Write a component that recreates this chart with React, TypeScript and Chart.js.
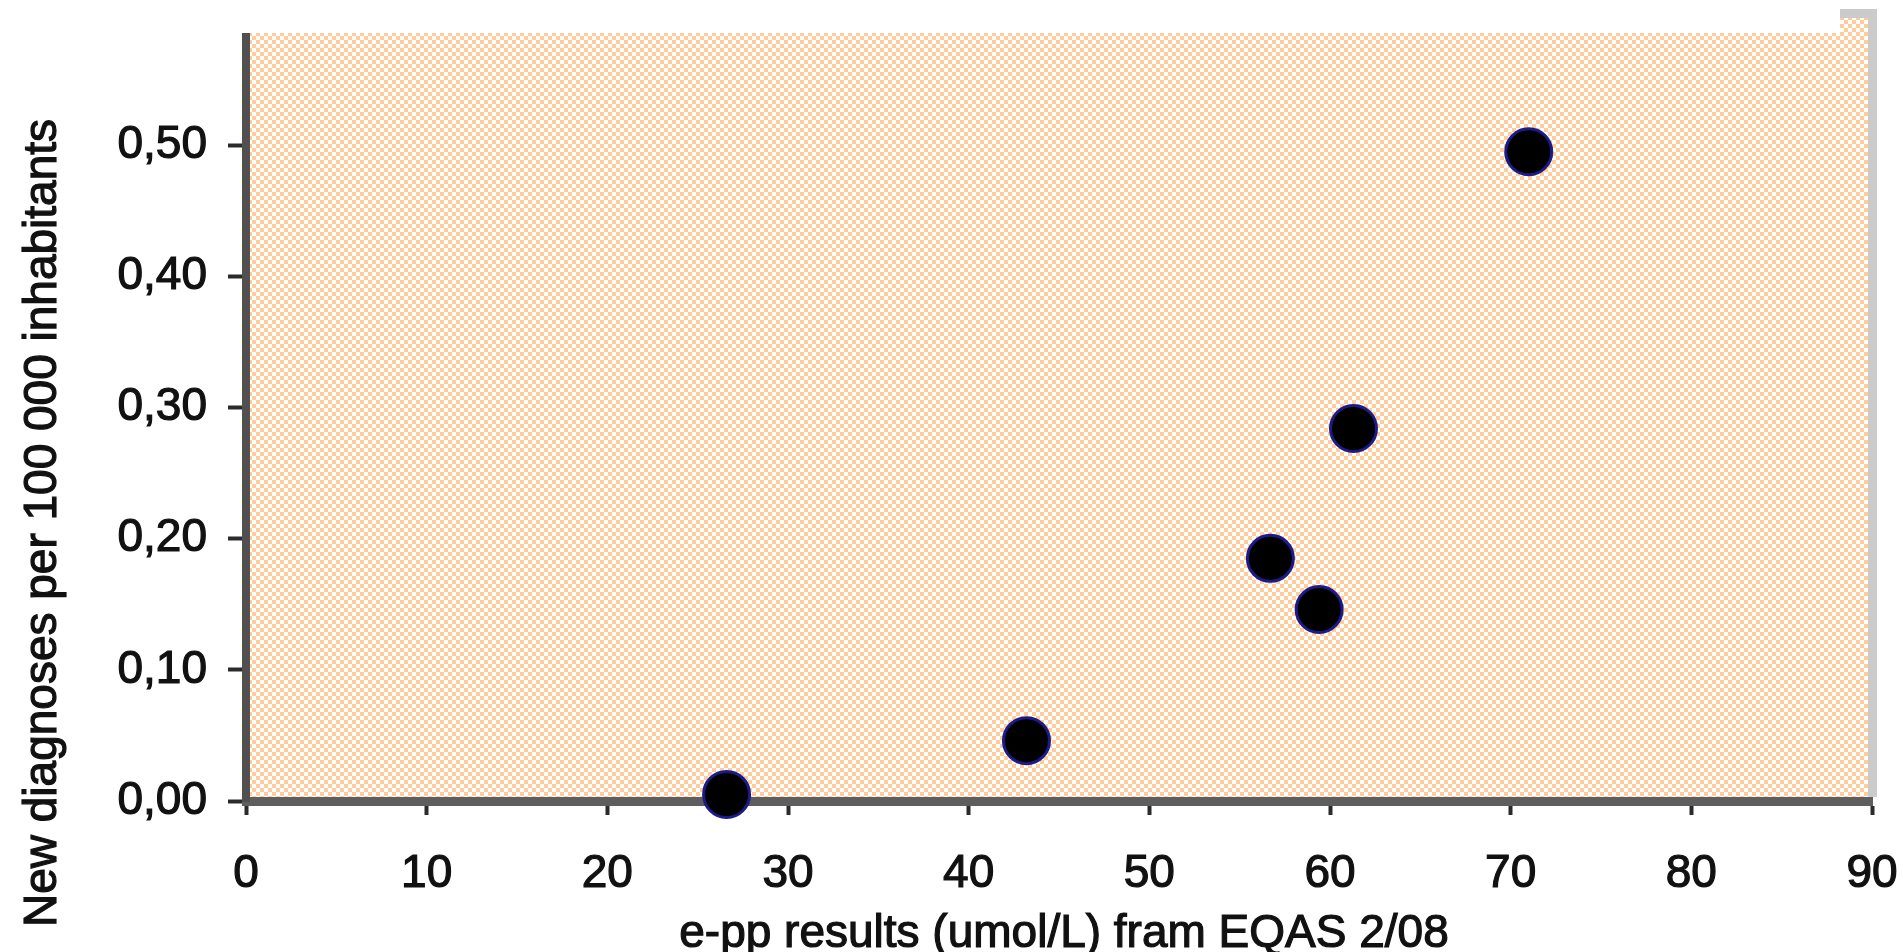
import { useEffect, useRef } from 'react';
import { Chart, registerables } from 'chart.js';

Chart.register(...registerables);

const xValues = [26.6, 43.2, 56.7, 59.4, 61.3, 71.0];
const yValues = [0.005, 0.046, 0.185, 0.146, 0.284, 0.495];
const xTickValues = [0, 10, 20, 30, 40, 50, 60, 70, 80, 90];
const yTickValues = [0, 0.1, 0.2, 0.3, 0.4, 0.5];
const xTitle = 'e-pp results (umol/L) fram EQAS 2/08';
const yTitle = 'New diagnoses per 100 000 inhabitants';

const FONT = '"Liberation Sans", Arial, sans-serif';
const FONT_SIZE = 46;
const TEXT_COLOR = '#111111';
const STROKE_W = 1.2;

export default function App() {
  const ref = useRef<HTMLCanvasElement>(null);

  useEffect(() => {
    const canvas = ref.current!;
    const tile = document.createElement('canvas');
    tile.width = 8;
    tile.height = 8;
    const tctx = tile.getContext('2d')!;
    tctx.fillStyle = '#ffffff';
    tctx.fillRect(0, 0, 8, 8);
    tctx.fillStyle = '#ffcc9b';
    tctx.fillRect(0, 0, 4, 4);
    tctx.fillRect(4, 4, 4, 4);
    const pattern = canvas.getContext('2d')!.createPattern(tile, 'repeat');

    const decor = {
      id: 'decor',
      beforeDraw(chart: any) {
        const { ctx, chartArea: a } = chart;
        ctx.save();
        ctx.fillStyle = '#ffffff';
        ctx.fillRect(0, 0, chart.width, chart.height);
        ctx.fillStyle = pattern as any;
        ctx.fillRect(a.left, a.top, a.right - a.left, a.bottom - a.top);
        ctx.restore();
      },
      afterDraw(chart: any) {
        const { ctx, chartArea: a } = chart;
        ctx.save();
        // frame (top and right)
        ctx.fillStyle = '#cbcbcb';
        ctx.fillRect(a.left, a.top - 5, a.right - a.left + 5, 9);
        ctx.fillRect(a.right - 4, a.top - 5, 9, a.bottom - a.top + 1);
        // cropped top strip of the original picture
        ctx.fillStyle = '#ffffff';
        ctx.fillRect(0, 0, a.right - 32, a.top + 19);
        // axis titles
        ctx.fillStyle = TEXT_COLOR;
        ctx.strokeStyle = TEXT_COLOR;
        ctx.lineWidth = STROKE_W;
        ctx.font = `${FONT_SIZE}px ${FONT}`;
        ctx.textAlign = 'center';
        ctx.textBaseline = 'middle';
        const xc = (a.left + a.right) / 2 + 5;
        ctx.fillText(xTitle, xc, 934);
        ctx.strokeText(xTitle, xc, 934);
        ctx.translate(43, 523);
        ctx.rotate(-Math.PI / 2);
        ctx.fillText(yTitle, 0, 0);
        ctx.strokeText(yTitle, 0, 0);
        ctx.restore();
      },
    };

    const chart = new Chart(canvas, {
      type: 'scatter',
      data: {
        datasets: [
          {
            data: xValues.map((x, i) => ({ x, y: yValues[i] })),
            backgroundColor: '#000000',
            borderColor: '#1b1b8c',
            borderWidth: 3,
            pointRadius: 23,
            pointHoverRadius: 23,
            clip: false as any,
          },
        ],
      },
      options: {
        animation: false,
        responsive: false,
        devicePixelRatio: 1,
        layout: { autoPadding: false, padding: { top: 14, right: 31, bottom: 0, left: 0 } },
        plugins: { legend: { display: false }, tooltip: { enabled: false } },
        scales: {
          x: {
            type: 'linear',
            min: 0,
            max: 90,
            afterBuildTicks: (s: any) => {
              s.ticks = xTickValues.map((v) => ({ value: v }));
            },
            afterFit: (s: any) => {
              s.height = 151;
              s.paddingLeft = 0;
              s.paddingRight = 0;
            },
            grid: {
              drawOnChartArea: false,
              drawTicks: true,
              tickLength: 14,
              tickWidth: 4,
              tickColor: '#2b2b2b',
            },
            border: { display: true, color: '#5e5e5e', width: 9 },
            ticks: {
              color: TEXT_COLOR,
              textStrokeColor: TEXT_COLOR,
              textStrokeWidth: STROKE_W,
              font: { family: FONT, size: FONT_SIZE },
              padding: 32,
              maxRotation: 0,
              autoSkip: false,
              callback: (v: any) => String(v),
            },
          },
          y: {
            type: 'linear',
            min: 0,
            max: 0.6,
            afterBuildTicks: (s: any) => {
              s.ticks = yTickValues.map((v) => ({ value: v }));
            },
            afterFit: (s: any) => {
              s.width = 246;
              s.paddingTop = 0;
              s.paddingBottom = 0;
            },
            grid: {
              drawOnChartArea: false,
              drawTicks: true,
              tickLength: 18,
              tickWidth: 4,
              tickColor: '#2b2b2b',
            },
            border: { display: true, color: '#505050', width: 8 },
            ticks: {
              color: TEXT_COLOR,
              textStrokeColor: TEXT_COLOR,
              textStrokeWidth: STROKE_W,
              font: { family: FONT, size: FONT_SIZE },
              padding: 21,
              autoSkip: false,
              callback: (v: any) => Number(v).toFixed(2).replace('.', ','),
            },
          },
        },
      },
      plugins: [decor],
    });

    return () => chart.destroy();
  }, []);

  return (
    <div style={{ position: 'fixed', left: 0, top: 0, width: 1903, height: 952 }}>
      <canvas ref={ref} width={1903} height={952} style={{ display: 'block' }} />
    </div>
  );
}
